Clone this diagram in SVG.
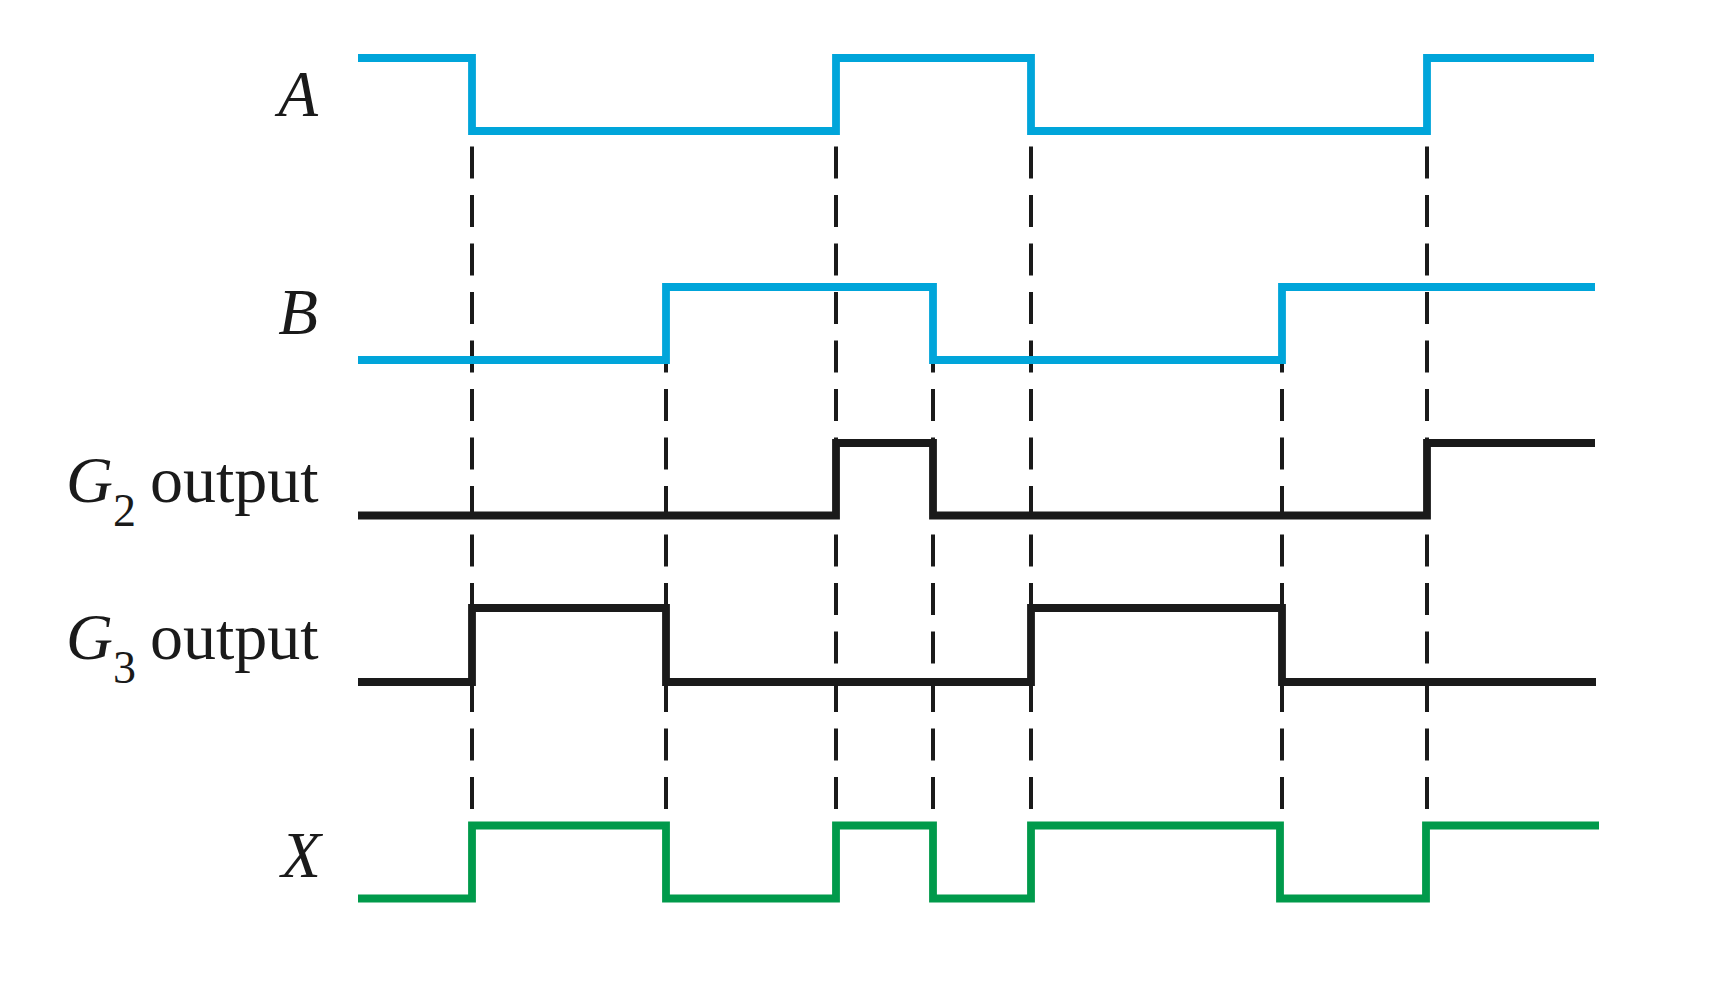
<svg xmlns="http://www.w3.org/2000/svg" width="1713" height="1000" viewBox="0 0 1713 1000">
<style>
.lbl{font-family:"Liberation Serif","Times New Roman",serif;font-size:65px;fill:#1a1a1a}
.it{font-style:italic}
.sub{font-size:46px}
.out{font-size:66px}
.dash{stroke:#1a1a1a;stroke-width:4;fill:none;stroke-dasharray:32 16.5}
.wave{fill:none;stroke-width:7.8;stroke-linejoin:miter;stroke-linecap:butt}
.blue{stroke:#00A5DA}
.black{stroke:#1a1a1a}
.green{stroke:#009A4B}
</style>
<rect width="1713" height="1000" fill="#fff"/>
<g id="connectors">
<line class="dash" x1="472" y1="146.5" x2="472" y2="810"/>
<line class="dash" x1="836" y1="146.5" x2="836" y2="810"/>
<line class="dash" x1="1031" y1="146.5" x2="1031" y2="810"/>
<line class="dash" x1="1427" y1="146.5" x2="1427" y2="810"/>
<line class="dash" x1="666" y1="363" x2="666" y2="810" stroke-dashoffset="22.5"/>
<line class="dash" x1="933" y1="363" x2="933" y2="810" stroke-dashoffset="22.5"/>
<line class="dash" x1="1282" y1="363" x2="1282" y2="810" stroke-dashoffset="22.5"/>
</g>
<g id="A">
<text class="lbl it" x="318" y="116" text-anchor="end">A</text>
<path class="wave blue" d="M358,58 H472 V131 H836 V58 H1031 V131 H1427 V58 H1594"/>
</g>
<g id="B">
<text class="lbl it" x="318" y="334" text-anchor="end">B</text>
<path class="wave blue" d="M358,360 H666 V287 H933 V360 H1282 V287 H1595"/>
</g>
<g id="G2">
<text class="lbl" x="66" y="501.5"><tspan class="it">G</tspan><tspan class="sub" dy="24">2</tspan><tspan class="out" dx="14" dy="-24">output</tspan></text>
<path class="wave black" d="M358,515.5 H836 V443 H933 V515.5 H1427 V443 H1595"/>
</g>
<g id="G3">
<text class="lbl" x="66" y="659"><tspan class="it">G</tspan><tspan class="sub" dy="24">3</tspan><tspan class="out" dx="14" dy="-24">output</tspan></text>
<path class="wave black" d="M358,682 H472 V608 H666 V682 H1031 V608 H1282 V682 H1596"/>
</g>
<g id="X">
<text class="lbl it" x="321" y="877" text-anchor="end">X</text>
<path class="wave green" d="M358,898.5 H472 V825.5 H666 V898.5 H836 V825.5 H933 V898.5 H1031 V825.5 H1280 V898.5 H1426 V825.5 H1599"/>
</g>
</svg>
